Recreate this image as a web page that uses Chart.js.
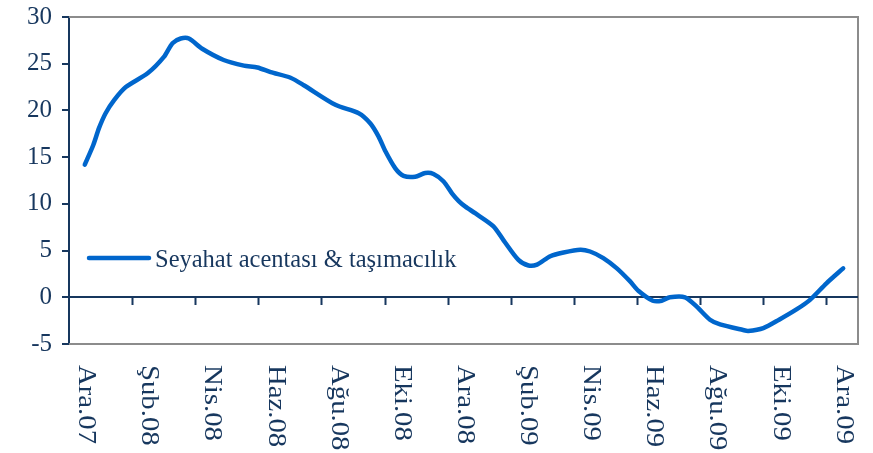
<!DOCTYPE html>
<html>
<head>
<meta charset="utf-8">
<style>
  html, body { margin: 0; padding: 0; background: #ffffff; }
  canvas { display: block; }
</style>
<script src="https://cdn.jsdelivr.net/npm/chart.js@4/dist/chart.umd.min.js"></script>
</head>
<body>
<canvas id="c" width="873" height="453"></canvas>
<script>
// ---- data (x = months since Ara.07) ----
const seriesName = "Seyahat acentası & taşımacılık";
const months = [0.00,0.27,0.45,0.66,0.93,1.30,2.00,2.50,2.78,3.04,3.30,3.72,4.40,5.04,5.47,5.89,6.52,6.94,7.94,8.68,9.05,9.31,9.53,9.84,10.10,10.47,10.79,11.05,11.37,11.64,11.85,12.06,12.37,12.95,13.27,13.74,14.06,14.33,14.75,15.17,15.70,16.01,16.43,16.86,17.28,17.54,18.00,18.28,18.54,19.02,19.39,19.81,20.13,20.86,21.02,21.50,22.00,22.55,22.97,23.50,24.03];
const values = [14.2,16.3,18.1,19.7,21.1,22.5,24.0,25.7,27.2,27.7,27.7,26.6,25.4,24.8,24.6,24.1,23.5,22.7,20.6,19.7,18.6,17.2,15.6,13.8,13.0,12.9,13.3,13.2,12.4,11.1,10.3,9.7,9.0,7.6,6.1,4.0,3.4,3.5,4.4,4.8,5.1,4.9,4.2,3.1,1.7,0.7,-0.37,-0.37,0.0,0.0,-1.0,-2.4,-2.9,-3.5,-3.6,-3.3,-2.4,-1.3,-0.3,1.5,3.1];
const tickLabels = ["Ara.07","Şub.08","Nis.08","Haz.08","Ağu.08","Eki.08","Ara.08","Şub.09","Nis.09","Haz.09","Ağu.09","Eki.09","Ara.09"];
const labelMonths = [0,2,4,6,8,10,12,14,16,18,20,22,24];
const tickMonths = [1.5,3.5,5.5,7.5,9.5,11.5,13.5,15.5,17.5,19.5,21.5,23.5];
const yTicks = [-5,0,5,10,15,20,25,30];

const NAVY = '#17375E';
const BLUE = '#0066CC';
const GRAY = '#8C8C8C';
const FONT = '"Liberation Serif", "Times New Roman", serif';
const FSIZE = 25;

const decor = {
  id: 'decor',
  beforeDatasetsDraw(chart) {
    const {ctx, chartArea: a, scales: {x, y}} = chart;
    ctx.save();
    // frame (top, right, bottom)
    ctx.strokeStyle = GRAY;
    ctx.lineWidth = 2;
    ctx.beginPath();
    ctx.moveTo(a.left, a.top); ctx.lineTo(a.right, a.top);
    ctx.lineTo(a.right, a.bottom); ctx.lineTo(a.left, a.bottom);
    ctx.stroke();
    // zero line with tick marks
    const y0 = Math.round(y.getPixelForValue(0));
    ctx.strokeStyle = NAVY;
    ctx.lineWidth = 2;
    ctx.beginPath();
    ctx.moveTo(a.left, y0); ctx.lineTo(a.right, y0);
    tickMonths.forEach(m => {
      const px = Math.round(x.getPixelForValue(m)) + 0.5;
      ctx.moveTo(px, y0); ctx.lineTo(px, y0 + 8);
    });
    ctx.stroke();
    ctx.restore();
  },
  afterDraw(chart) {
    const {ctx, chartArea: a, scales: {x}} = chart;
    ctx.save();
    ctx.fillStyle = NAVY;
    ctx.font = FSIZE + 'px ' + FONT;
    ctx.textAlign = 'left';
    ctx.textBaseline = 'middle';
    tickLabels.forEach((t, i) => {
      const px = x.getPixelForValue(labelMonths[i]);
      ctx.save();
      ctx.translate(px + 1, a.bottom + 21);
      ctx.rotate(Math.PI / 2);
      ctx.scale(1.15, 1);
      ctx.fillText(t, 0, 0);
      ctx.restore();
    });
    // legend
    const ly = 258;
    ctx.strokeStyle = BLUE;
    ctx.lineWidth = 4.5;
    ctx.lineCap = 'round';
    ctx.beginPath();
    ctx.moveTo(a.left + 20, ly); ctx.lineTo(a.left + 80, ly);
    ctx.stroke();
    ctx.save();
    ctx.translate(a.left + 86, ly + 2);
    ctx.scale(0.98, 1);
    ctx.fillText(seriesName, 0, 0);
    ctx.restore();
    ctx.restore();
  }
};

new Chart(document.getElementById('c'), {
  type: 'line',
  data: {
    datasets: [{
      label: seriesName,
      data: months.map((m, i) => ({x: m, y: values[i]})),
      borderColor: BLUE,
      borderWidth: 4.5,
      pointRadius: 0,
      tension: 0.25,
      fill: false,
      borderCapStyle: 'round',
      borderJoinStyle: 'round'
    }]
  },
  options: {
    responsive: false,
    animation: false,
    devicePixelRatio: 1,
    layout: { padding: { top: 17, right: 15, bottom: 109, left: 0 } },
    plugins: { legend: { display: false }, tooltip: { enabled: false } },
    scales: {
      x: { type: 'linear', min: -0.5, max: 24.5, display: false },
      y: {
        type: 'linear', min: -5, max: 30,
        afterBuildTicks(s) { s.ticks = yTicks.map(v => ({value: v})); },
        afterFit(s) { s.width = 69; s.paddingTop = 0; s.paddingBottom = 0; },
        ticks: { color: NAVY, font: { family: FONT, size: FSIZE }, padding: 10 },
        grid: { drawOnChartArea: false, drawTicks: true, tickLength: 7, color: NAVY, lineWidth: 2 },
        border: { color: NAVY, width: 2 }
      }
    }
  },
  plugins: [decor]
});
</script>
</body>
</html>
